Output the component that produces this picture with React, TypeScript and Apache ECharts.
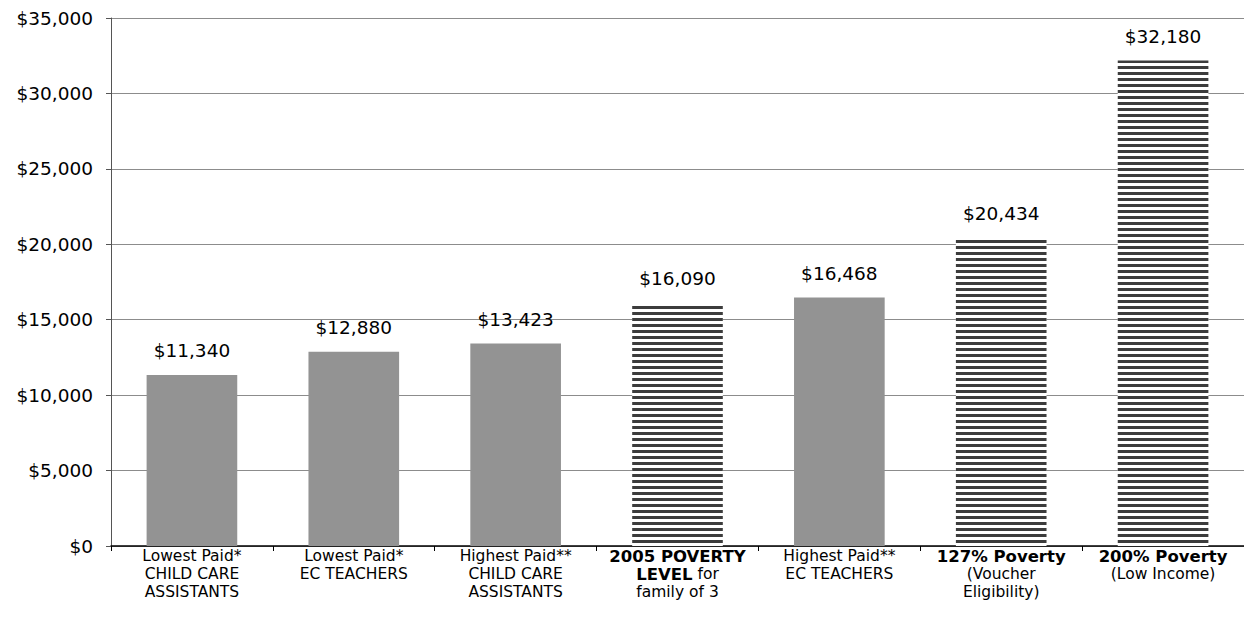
import React, { useEffect, useRef } from "react";
import * as echarts from "echarts";

const categories = [
  "Lowest Paid*\nCHILD CARE\nASSISTANTS",
  "Lowest Paid*\nEC TEACHERS",
  "Highest Paid**\nCHILD CARE\nASSISTANTS",
  "{b|2005 POVERTY}\n{b|LEVEL} for\nfamily of 3",
  "Highest Paid**\nEC TEACHERS",
  "{b|127% Poverty}\n(Voucher\nEligibility)",
  "{b|200% Poverty}\n(Low Income)",
];
const values = [11340, 12880, 13423, 16090, 16468, 20434, 32180];
const striped = [false, false, false, true, false, true, true];
const yTicks = [0, 5000, 10000, 15000, 20000, 25000, 30000, 35000];

const FONT = "'DejaVu Sans', sans-serif";

function money(v: number) {
  return "$" + v.toLocaleString("en-US");
}

export default function App() {
  const ref = useRef<HTMLDivElement>(null);
  useEffect(() => {
    if (!ref.current) return;
    const chart = echarts.init(ref.current, null, { renderer: "svg" });
    chart.setOption({
      animation: false,
      aria: { enabled: true, decal: { show: true } },
      grid: { left: 111, right: 0, top: 18, bottom: 72 },
      xAxis: {
        type: "category",
        data: categories,
        axisLine: { lineStyle: { color: "#000", width: 1.5 } },
        axisTick: { show: true, length: 5, alignWithLabel: false, lineStyle: { color: "#000" } },
        axisLabel: {
          interval: 0,
          margin: 1,
          color: "#000",
          fontFamily: FONT,
          fontSize: 15.5,
          lineHeight: 18,
          align: "center",
          rich: {
            b: { fontFamily: FONT, fontWeight: "bold", fontSize: 16.5, lineHeight: 18, color: "#000" },
          },
        },
      },
      yAxis: {
        type: "value",
        min: yTicks[0],
        max: yTicks[yTicks.length - 1],
        interval: 5000,
        axisLine: { show: true, lineStyle: { color: "#555", width: 1 } },
        axisTick: { show: true, length: 5, lineStyle: { color: "#555" } },
        splitLine: { show: true, lineStyle: { color: "#8c8c8c", width: 1 } },
        axisLabel: {
          margin: 18,
          color: "#000",
          fontFamily: FONT,
          fontSize: 18.5,
          formatter: (v: number) => money(v),
        },
      },
      series: [
        {
          type: "bar",
          barWidth: "56%",
          data: values.map((v, i) => ({
            value: v,
            itemStyle: striped[i]
              ? {
                  color: "#ffffff",
                  decal: {
                    symbol: "rect",
                    symbolSize: 1,
                    dashArrayX: [1, 0],
                    dashArrayY: [3, 2.5],
                    rotation: 0,
                    color: "#3c3c3c",
                  },
                }
              : { color: "#939393", decal: { symbol: "none" } },
          })),
          label: {
            show: true,
            position: "top",
            distance: 15,
            color: "#000",
            fontFamily: FONT,
            fontSize: 18.5,
            formatter: (p: any) => money(p.value),
          },
        },
      ],
    });
    return () => chart.dispose();
  }, []);
  return (
    <div
      ref={ref}
      style={{ position: "fixed", left: 0, top: 0, width: 1244, height: 618, background: "#fff" }}
    />
  );
}
